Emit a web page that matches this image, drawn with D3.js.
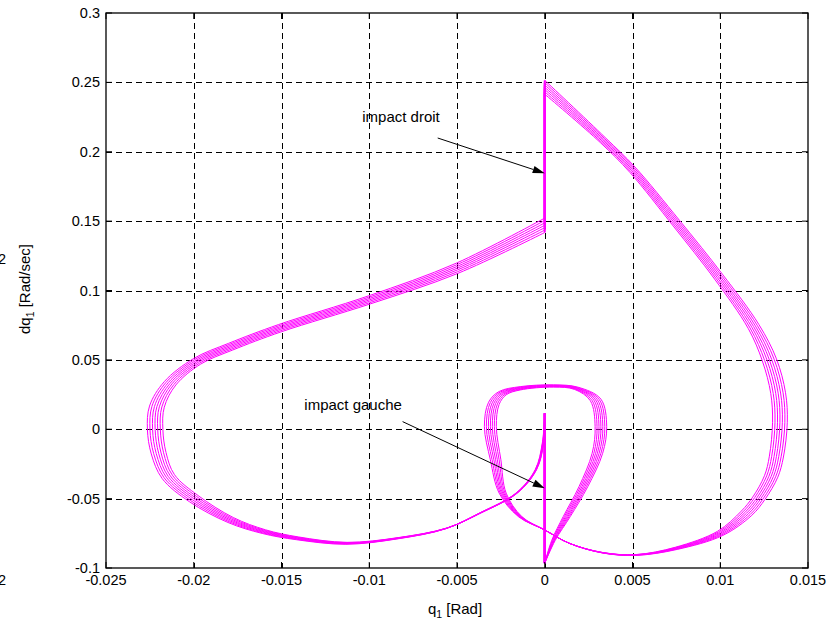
<!DOCTYPE html>
<html><head><meta charset="utf-8">
<script src="https://cdn.jsdelivr.net/npm/d3@7"></script>
<style>
body{margin:0;background:#fff}
svg{display:block}
text{font-family:"Liberation Sans",Arial,Helvetica,sans-serif;fill:#000}
</style>
</head><body>
<svg id="c" width="827" height="624"></svg>
<script>
// ---- axis ticks ----
const xTicks = [-0.025, -0.02, -0.015, -0.01, -0.005, 0, 0.005, 0.01, 0.015];
const xTickLabels = ["-0.025", "-0.02", "-0.015", "-0.01", "-0.005", "0", "0.005", "0.01", "0.015"];
const yTicks = [-0.1, -0.05, 0, 0.05, 0.1, 0.15, 0.2, 0.25, 0.3];
const yTickLabels = ["-0.1", "-0.05", "0", "0.05", "0.1", "0.15", "0.2", "0.25", "0.3"];

// ---- left branch: from impact gauche (q=0) around the left loop to impact droit ----
const leftQ  = [0, -0.0001, -0.0005, -0.0016, -0.0037, -0.0056, -0.0084, -0.0113, -0.0141, -0.0160, -0.0179, -0.0200, -0.02145, -0.0220, -0.0222, -0.0221, -0.02135, -0.0198, -0.0179, -0.0151, -0.0100, -0.0050, 0];
const leftDq = [0.0115, -0.010, -0.029, -0.046, -0.0605, -0.0714, -0.0786, -0.0822, -0.0786, -0.0738, -0.0654, -0.050, -0.0341, -0.0173, 0.000, 0.0163, 0.0331, 0.049, 0.0595, 0.0728, 0.0932, 0.116, 0.147];
// bundle half-width (cycle to cycle spread) read along the left branch
const leftSpreadQ  = [0, -0.00004, -0.00004, -0.00004, -0.00004, -0.00004, -0.00004, -0.00004, -0.00006, -0.0001, -0.00015, -0.00025, -0.00035, -0.00042, -0.00044, -0.00042, -0.00033, -0.0002, -0.00012, -0.00008, -0.00005, -0.00004, 0];
const leftSpreadDq = [0, 0, 0, 0, 0, -0.0003, -0.0005, -0.0007, -0.0010, -0.0013, -0.0018, -0.0022, -0.0014, -0.0005, 0, 0.0004, 0.0012, 0.0020, 0.0024, 0.0026, 0.0029, 0.0037, 0.0052];

// ---- right branch: from impact droit around the right loop and inner loop to impact gauche ----
const rightQ  = [0, 0.0033, 0.0050, 0.0075, 0.0099, 0.0119, 0.0128, 0.0133, 0.0134, 0.0132, 0.0129, 0.0122, 0.0115, 0.0100, 0.0075, 0.0052, 0.0033, 0.0014, 0, -0.0014, -0.0024, -0.0028, -0.0031, -0.0029, -0.0024, -0.0014, 0.0005, 0.0018, 0.0029, 0.0032, 0.0030, 0.0022, 0.00125, 0.0005, 0];
const rightDq = [0.2465, 0.2085, 0.187, 0.1485, 0.110, 0.074, 0.050, 0.026, 0.005, -0.0197, -0.034, -0.0497, -0.0605, -0.075, -0.0858, -0.0906, -0.089, -0.0822, -0.0726, -0.063, -0.046, -0.022, 0.002, 0.0187, 0.026, 0.0295, 0.0312, 0.0295, 0.0211, 0.002, -0.0173, -0.0414, -0.063, -0.080, -0.0965];
const rightSpreadQ  = [0, 0.00014, 0.00014, 0.00018, 0.00022, 0.0003, 0.0004, 0.00042, 0.00042, 0.0004, 0.00038, 0.00035, 0.0003, 0.00015, 0.00005, 0, 0, 0, 0, -0.0001, -0.0002, -0.0003, -0.00034, -0.0003, -0.0002, 0, 0, 0.0001, 0.0003, 0.00033, 0.0003, 0.00025, 0.0002, 0.0001, 0];
const rightSpreadDq = [0.005, 0.0018, 0.0020, 0.0020, 0.0018, 0.0015, 0.0008, 0.0003, 0, -0.0003, -0.0005, -0.0008, -0.0015, -0.0015, -0.0008, -0.0003, -0.0002, 0, 0, 0, 0, 0, 0, 0.0008, 0.0012, 0.0012, 0.0008, 0.0008, 0.0006, 0, 0, 0, 0, 0, 0];

// relative position of each simulated cycle inside the bundle
const cycleOffsets = [-1, -0.67, -0.33, 0, 0.33, 0.67, 1];

// ---- annotations ----
const annLabels = ["impact droit", "impact gauche"];
const annTextQ  = [-0.0104, -0.0137];
const annTextDq = [0.2215, 0.0139];
const annFromQ  = [-0.0061, -0.0081];
const annFromDq = [0.2099, 0.0055];
const annToQ    = [0, 0];
const annToDq   = [0.1845, -0.0425];

// ---------------------------------------------------------------
const svg = d3.select("#c");
const L = 106, R = 808, T = 13, B = 568;
const x = d3.scaleLinear().domain([-0.025, 0.015]).range([L, R]);
const y = d3.scaleLinear().domain([-0.1, 0.3]).range([B, T]);

// grid
const grid = svg.append("g").attr("stroke", "#000").attr("stroke-width", 1)
  .attr("stroke-dasharray", "6,4").attr("shape-rendering", "crispEdges");
xTicks.slice(1, -1).forEach(v => {
  grid.append("line").attr("x1", Math.round(x(v)) + 0.5).attr("x2", Math.round(x(v)) + 0.5)
    .attr("y1", T).attr("y2", B);
});
yTicks.slice(1, -1).forEach(v => {
  grid.append("line").attr("y1", Math.round(y(v)) + 0.5).attr("y2", Math.round(y(v)) + 0.5)
    .attr("x1", L).attr("x2", R);
});

// curves
const line = d3.line().x(d => x(d[0])).y(d => y(d[1])).curve(d3.curveCatmullRom.alpha(0.5));
const straight = d3.line().x(d => x(d[0])).y(d => y(d[1]));
const curves = svg.append("g").attr("fill", "none").attr("stroke", "#ff00ff");
cycleOffsets.forEach(k => {
  const lp = leftQ.map((q, i) => [q + k * leftSpreadQ[i], leftDq[i] + k * leftSpreadDq[i]]);
  const rp = rightQ.map((q, i) => [q + k * rightSpreadQ[i], rightDq[i] + k * rightSpreadDq[i]]);
  curves.append("path").attr("d", line(lp)).attr("stroke-width", 1);
  curves.append("path").attr("d", line(rp)).attr("stroke-width", 1);
  // impact droit (jump) and impact gauche (jump)
  curves.append("path").attr("d", straight([lp[lp.length - 1], rp[0]])).attr("stroke-width", 2);
  curves.append("path").attr("d", straight([rp[rp.length - 1], lp[0]])).attr("stroke-width", 2);
});

// frame
svg.append("rect").attr("x", L).attr("y", T).attr("width", R - L).attr("height", B - T)
  .attr("fill", "none").attr("stroke", "#000").attr("stroke-width", 1.3);

// ticks (inward, all four sides)
const tk = svg.append("g").attr("stroke", "#000").attr("stroke-width", 1);
xTicks.forEach(v => {
  tk.append("line").attr("x1", x(v)).attr("x2", x(v)).attr("y1", B).attr("y2", B - 6);
  tk.append("line").attr("x1", x(v)).attr("x2", x(v)).attr("y1", T).attr("y2", T + 6);
});
yTicks.forEach(v => {
  tk.append("line").attr("y1", y(v)).attr("y2", y(v)).attr("x1", L).attr("x2", L + 6);
  tk.append("line").attr("y1", y(v)).attr("y2", y(v)).attr("x1", R).attr("x2", R - 6);
});

// tick labels
xTicks.forEach((v, i) => {
  svg.append("text").attr("x", x(v)).attr("y", B + 17).attr("text-anchor", "middle")
    .attr("font-size", 14.5).text(xTickLabels[i]);
});
yTicks.forEach((v, i) => {
  svg.append("text").attr("x", L - 6).attr("y", y(v) + 5).attr("text-anchor", "end")
    .attr("font-size", 14.5).text(yTickLabels[i]);
});

// axis labels
const xl = svg.append("text").attr("x", 455).attr("y", 614).attr("text-anchor", "middle").attr("font-size", 15);
xl.append("tspan").text("q");
xl.append("tspan").attr("font-size", 10.5).attr("dy", 4).text("1");
xl.append("tspan").attr("dy", -4).text(" [Rad]");
const yl = svg.append("text").attr("transform", "translate(30,289) rotate(-90)").attr("text-anchor", "middle").attr("font-size", 15);
yl.append("tspan").text("dq");
yl.append("tspan").attr("font-size", 10.5).attr("dy", 4).text("1");
yl.append("tspan").attr("dy", -4).text(" [Rad/sec]");

// clipped labels of neighbouring subplot
svg.append("text").attr("x", -2).attr("y", 264).attr("font-size", 14.5).text("2");
svg.append("text").attr("x", -2).attr("y", 585).attr("font-size", 14.5).text("2");

// annotations
annLabels.forEach((t, i) => {
  svg.append("text").attr("x", x(annTextQ[i])).attr("y", y(annTextDq[i])).attr("font-size", 15).text(t);
  const x0 = x(annFromQ[i]), y0 = y(annFromDq[i]), x1 = x(annToQ[i]), y1 = y(annToDq[i]);
  const ang = Math.atan2(y1 - y0, x1 - x0), hl = 12, hw = 3.8;
  const bx = x1 - hl * Math.cos(ang), by = y1 - hl * Math.sin(ang);
  svg.append("line").attr("x1", x0).attr("y1", y0).attr("x2", bx).attr("y2", by)
    .attr("stroke", "#000").attr("stroke-width", 1);
  svg.append("polygon").attr("fill", "#000").attr("points", [
    [x1, y1],
    [bx - hw * Math.sin(ang), by + hw * Math.cos(ang)],
    [bx + hw * Math.sin(ang), by - hw * Math.cos(ang)]
  ].map(p => p.join(",")).join(" "));
});
</script>
</body></html>
